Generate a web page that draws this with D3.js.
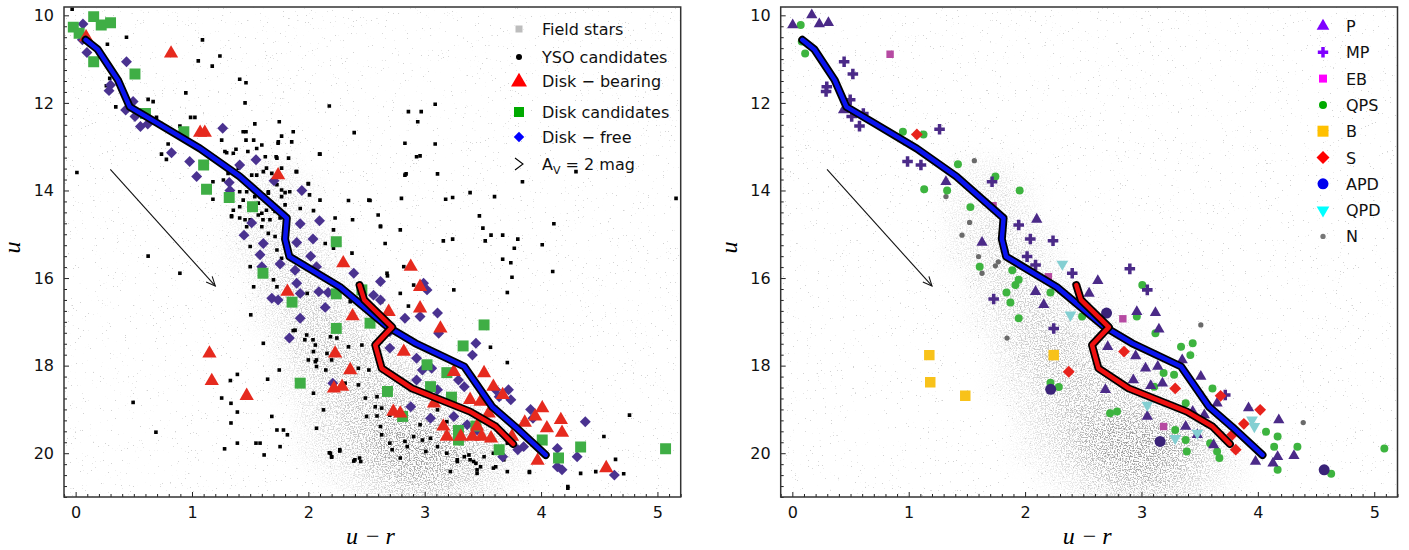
<!DOCTYPE html>
<html>
<head>
<meta charset="utf-8">
<script src="https://cdn.jsdelivr.net/npm/d3@7"></script>
<style>
  body { margin: 0; background: #fff; }
  svg { display: block; font-family: "DejaVu Sans", sans-serif; }
</style>
</head>
<body>
<svg id="chart" width="1409" height="550"><defs></defs></svg>
<script>

// ---- axis setup
const xDomain = [-0.1, 5.2]
const yDomain = [9.81, 21.0]
const xTicks = [0, 1, 2, 3, 4, 5]
const yTicks = [10, 12, 14, 16, 18, 20]

// ---- field stars: density (u-r columns, u rows)
const fieldColors = [1.2, 1.4, 1.6, 1.8, 2.0, 2.2, 2.4, 2.6, 2.8, 3.0, 3.2, 3.4, 3.6, 3.8, 4.0, 4.2, 4.4, 4.6]
const fieldMags = [13.5, 14.0, 14.5, 15.0, 15.5, 16.0, 16.5, 17.0, 17.5, 18.0, 18.5, 19.0, 19.5, 20.0, 20.5, 21.0]
const fieldDensity = [
  [0, 1, 1, 1, 0, 0, 0, 0, 0, 0, 0, 0, 0, 0, 0, 0, 0, 0],
  [0, 1, 2, 2, 1, 0, 0, 0, 0, 0, 0, 0, 0, 0, 0, 0, 0, 0],
  [0, 1, 2, 2, 1, 0, 0, 0, 0, 0, 0, 0, 0, 0, 0, 0, 0, 0],
  [0, 1, 2, 3, 2, 1, 0, 0, 0, 0, 0, 0, 0, 0, 0, 0, 0, 0],
  [0, 1, 2, 3, 3, 1, 0, 0, 0, 0, 0, 0, 0, 0, 0, 0, 0, 0],
  [0, 0, 2, 3, 3, 2, 1, 0, 0, 0, 0, 0, 0, 0, 0, 0, 0, 0],
  [0, 0, 1, 3, 4, 3, 2, 1, 0, 0, 0, 0, 0, 0, 0, 0, 0, 0],
  [0, 0, 1, 2, 4, 4, 3, 2, 1, 0, 0, 0, 0, 0, 0, 0, 0, 0],
  [0, 0, 0, 2, 4, 5, 4, 3, 2, 1, 0, 0, 0, 0, 0, 0, 0, 0],
  [0, 0, 0, 1, 3, 5, 5, 4, 3, 2, 1, 0, 0, 0, 0, 0, 0, 0],
  [0, 0, 0, 1, 2, 4, 5, 5, 4, 3, 2, 1, 0, 0, 0, 0, 0, 0],
  [0, 0, 0, 0, 2, 3, 5, 6, 6, 5, 3, 2, 1, 0, 0, 0, 0, 0],
  [0, 0, 0, 0, 1, 3, 5, 7, 8, 8, 7, 5, 3, 1, 0, 0, 0, 0],
  [0, 0, 0, 0, 1, 2, 4, 7, 9, 9, 8, 6, 3, 1, 0, 0, 0, 0],
  [0, 0, 0, 0, 0, 1, 2, 4, 6, 7, 6, 4, 2, 1, 0, 0, 0, 0],
  [0, 0, 0, 0, 0, 0, 1, 2, 3, 3, 3, 2, 1, 0, 0, 0, 0, 0]
]

// ---- isochrones and reddening vector
const isoBlue = [[0.086, 10.56], [0.19, 10.78], [0.364, 11.48], [0.465, 12.09], [0.695, 12.45], [1.068, 13.04], [1.41, 13.68], [1.815, 14.63], [1.80, 15.11], [1.837, 15.51], [2.27, 16.2], [2.68, 17.11], [2.92, 17.49], [3.34, 18.02], [3.58, 18.94], [3.78, 19.40], [4.04, 20.04]]
const isoRed = [[2.44, 16.16], [2.48, 16.5], [2.72, 17.12], [2.575, 17.53], [2.63, 18.06], [2.89, 18.52], [3.39, 19.05], [3.61, 19.39], [3.76, 19.79]]
const extinctionArrow = [[0.298, 13.52], [1.2, 16.18]]

// ---- left panel
const leftLabels = ['Field stars', 'YSO candidates', 'Disk \u2212 bearing', 'Disk candidates', 'Disk \u2212 free', 'A_V = 2 mag']

const ysoCandidates = [
  [-0.03, 9.86], [0.437, 10.5], [0.273, 10.66], [1.09, 10.56], [1.054, 11.04], [1.174, 11.16], [1.24, 10.93], [1.41, 11.46], [1.464, 11.54], [0.947, 11.77],
  [1.456, 12.0], [2.18, 12.07], [0.293, 11.44], [0.264, 11.61], [0.345, 12.09], [0.623, 11.92], [0.666, 11.97], [0.695, 12.33], [0.896, 12.53], [0.988, 12.33],
  [1.025, 12.33], [1.54, 12.48], [1.75, 12.43], [1.77, 12.76], [1.857, 12.89], [1.742, 12.89], [1.464, 12.66], [1.255, 12.85], [0.795, 12.94], [0.738, 13.17],
  [0.78, 13.29], [1.298, 13.14], [1.378, 13.06], [1.556, 13.04], [1.464, 12.85], [2.096, 13.17], [2.394, 12.68], [0.011, 13.59], [2.0, 13.85], [1.895, 13.57],
  [1.723, 13.23], [1.77, 13.49], [1.613, 13.57], [1.398, 13.49], [1.513, 13.65], [1.18, 13.8], [2.345, 14.23], [2.38, 14.67], [2.216, 14.9], [2.216, 15.32],
  [2.044, 14.46], [2.01, 14.1], [1.8, 14.05], [1.656, 14.06], [1.585, 14.14], [1.6, 14.52], [1.7, 14.43], [1.41, 14.37], [1.34, 14.58], [1.456, 14.67],
  [0.623, 15.5], [0.896, 15.89], [1.44, 12.66], [1.87, 12.66], [1.74, 12.92], [1.6, 12.96], [1.53, 12.85], [1.283, 13.11], [1.355, 13.15], [1.48, 13.11],
  [1.63, 13.23], [1.73, 13.26], [1.83, 13.26], [1.9, 13.57], [1.64, 13.49], [1.556, 13.65], [1.686, 13.61], [2.0, 13.84], [2.1, 13.17], [1.73, 13.87],
  [1.77, 13.99], [1.84, 14.03], [1.656, 14.03], [1.613, 14.1], [1.47, 14.03], [1.41, 14.03], [1.44, 14.22], [1.54, 14.14], [1.64, 14.22], [1.686, 14.29],
  [1.77, 14.14], [1.8, 14.33], [1.714, 14.48], [1.64, 14.45], [1.57, 14.56], [1.61, 14.67], [1.67, 14.67], [1.355, 14.45], [1.34, 14.6], [1.41, 14.63],
  [1.5, 14.67], [1.47, 14.83], [1.6, 14.83], [1.656, 14.98], [1.18, 14.2], [1.27, 13.76], [1.31, 13.61], [1.5, 15.28], [1.57, 14.29], [2.1, 14.22],
  [1.93, 14.41], [1.757, 14.63], [2.52, 14.22], [2.8, 14.18], [2.83, 13.65], [2.83, 12.92], [2.6, 14.56], [2.62, 14.83], [2.79, 14.9], [2.66, 15.21],
  [2.23, 14.63], [2.145, 15.21], [2.375, 15.43], [2.82, 15.74], [2.93, 13.23], [2.905, 16.16], [2.676, 15.89], [2.79, 16.35], [2.216, 16.12], [2.087, 15.89],
  [1.815, 15.05], [1.714, 15.05], [1.73, 15.36], [1.77, 15.55], [1.5, 15.74], [1.7, 16.04], [1.73, 16.2], [1.53, 16.2], [1.99, 16.35], [2.36, 16.54],
  [2.63, 16.54], [3.09, 12.03], [2.86, 12.2], [2.97, 12.2], [2.94, 12.43], [3.09, 12.94], [2.96, 13.21], [2.84, 13.62], [3.11, 13.62], [4.3, 13.57],
  [3.84, 13.8], [2.53, 14.23], [3.18, 14.2], [3.24, 14.16], [3.39, 14.05], [3.6, 14.14], [5.16, 14.18], [2.62, 14.81], [3.47, 14.58], [3.5, 14.86],
  [3.57, 15.02], [3.67, 15.02], [3.52, 15.15], [3.8, 15.11], [3.77, 15.32], [4.11, 14.76], [4.01, 15.24], [3.16, 15.15], [3.24, 15.11], [3.67, 15.57],
  [3.74, 15.65], [2.68, 15.95], [3.75, 15.98], [4.1, 15.85], [3.25, 16.27], [3.71, 16.33], [3.71, 17.93], [3.565, 17.58], [4.76, 19.13], [4.54, 19.62],
  [4.64, 20.14], [4.71, 20.47], [4.34, 20.46], [4.47, 20.42], [3.9, 20.44], [4.23, 20.8], [2.86, 16.64], [3.71, 19.77], [3.45, 20.38], [3.59, 20.34],
  [3.28, 20.15], [3.38, 20.04], [3.42, 20.19], [3.22, 20.42], [1.886, 17.19], [1.97, 17.41], [2.06, 17.53], [2.0, 17.87], [2.07, 17.87], [2.044, 17.68],
  [2.19, 17.34], [2.245, 17.37], [2.345, 17.57], [2.46, 17.53], [2.16, 17.72], [2.2, 17.87], [2.43, 18.06], [2.52, 18.1], [2.316, 18.4], [2.43, 18.44],
  [2.49, 18.74], [2.59, 18.71], [2.575, 18.94], [2.63, 18.97], [2.044, 18.63], [2.13, 19.01], [2.07, 19.43], [2.27, 19.92], [2.19, 20.0], [2.2, 20.08],
  [2.4, 20.15], [2.45, 20.19], [2.62, 19.39], [2.63, 19.58], [2.7, 19.77], [2.72, 19.92], [2.79, 20.11], [2.83, 19.73], [2.85, 19.85], [2.905, 19.62],
  [2.98, 19.7], [3.05, 19.66], [3.01, 19.96], [3.11, 19.85], [3.19, 20.0], [3.28, 20.19], [3.34, 20.08], [3.39, 20.15], [3.44, 20.23], [3.48, 20.31],
  [3.51, 20.08], [3.59, 20.0], [3.61, 20.31], [3.68, 20.15], [3.71, 20.42], [3.45, 20.46], [2.79, 19.24], [2.96, 19.35], [2.7, 19.13], [2.59, 19.15],
  [2.5, 19.16], [3.15, 19.43], [3.11, 19.01], [3.19, 19.28], [3.9, 20.42], [4.23, 20.76], [1.9, 18.33], [1.505, 16.84], [1.613, 17.49], [1.75, 18.1],
  [1.65, 18.31], [1.39, 18.2], [1.33, 18.34], [1.255, 18.74], [1.335, 18.86], [1.39, 19.06], [1.335, 19.31], [1.39, 19.77], [1.28, 19.9], [1.55, 19.77],
  [1.585, 19.77], [1.62, 20.04], [1.757, 19.85], [1.686, 19.16], [1.73, 19.47], [1.786, 19.47], [1.82, 19.58], [1.87, 17.2], [1.986, 17.3], [2.04, 17.41],
  [2.06, 17.91], [2.07, 18.02], [2.15, 18.1], [2.18, 19.99], [2.2, 20.09], [2.27, 19.95], [2.39, 20.18], [2.44, 20.11], [0.494, 18.84], [0.69, 19.52]
]

const diskFree = [
  [0.063, 10.2], [0.058, 10.56], [0.097, 10.85], [0.437, 11.06], [0.287, 11.72], [0.3, 11.59], [0.494, 11.97], [0.43, 12.16], [0.51, 12.31], [0.557, 12.54],
  [0.62, 12.48], [0.824, 13.14], [0.98, 13.34], [1.04, 13.68], [1.264, 12.58], [1.41, 13.42], [1.55, 13.3], [1.32, 13.82], [1.326, 14.0], [1.705, 13.78],
  [1.944, 14.0], [1.513, 14.74], [1.447, 15.02], [1.613, 15.21], [1.93, 14.76], [2.096, 14.69], [2.04, 15.11], [1.9, 15.19], [1.585, 15.47], [1.6, 15.74],
  [1.757, 15.68], [1.886, 15.82], [2.02, 15.5], [2.07, 15.74], [1.9, 16.12], [1.93, 16.35], [1.686, 16.46], [1.74, 16.5], [2.09, 16.31], [2.17, 16.33],
  [2.39, 15.89], [2.62, 16.08], [2.56, 16.39], [2.62, 16.5], [2.145, 16.67], [1.93, 16.92], [1.837, 17.37], [2.21, 18.4], [2.7, 17.22], [2.83, 16.92],
  [2.96, 16.88], [3.11, 16.8], [3.12, 17.26], [3.44, 17.49], [3.41, 17.76], [2.7, 17.6], [2.93, 17.83], [2.98, 18.1], [3.06, 18.06], [2.93, 18.33],
  [3.29, 18.33], [3.34, 18.48], [3.11, 18.55], [2.88, 18.94], [3.05, 19.2], [3.25, 19.16], [3.365, 19.35], [3.61, 18.55], [3.64, 18.71], [3.72, 18.55],
  [3.74, 18.78], [3.91, 19.0], [3.93, 19.2], [4.38, 19.28], [3.85, 19.85], [3.8, 19.92], [4.14, 19.89], [4.14, 20.31], [4.18, 20.38], [4.31, 20.08],
  [3.67, 20.08], [3.45, 19.47], [2.99, 16.12], [3.02, 16.27], [4.63, 20.5]
]

const diskCandidates = [
  [0.155, 10.03], [0.22, 10.22], [0.3, 10.17], [-0.02, 10.27], [0.03, 10.41], [0.155, 11.06], [0.51, 11.34], [0.6, 12.24], [0.93, 12.66], [1.1, 13.42],
  [1.125, 13.97], [1.32, 14.16], [1.52, 14.37], [2.24, 15.17], [1.61, 15.89], [1.86, 16.55], [2.24, 16.36], [2.24, 17.15], [1.93, 18.4], [2.53, 17.03],
  [2.46, 16.27], [3.51, 17.07], [3.33, 17.55], [3.02, 17.98], [3.19, 18.16], [3.05, 18.48], [2.68, 18.59], [3.23, 18.72], [2.81, 19.16], [3.44, 19.38],
  [3.29, 19.48], [3.29, 19.7], [3.64, 19.92], [4.01, 19.7], [4.34, 19.86], [5.07, 19.9], [4.15, 20.11]
]

const diskBearing = [
  [0.09, 10.5], [0.82, 10.87], [1.07, 12.68], [1.11, 12.68], [1.74, 13.65], [2.3, 15.66], [2.88, 15.74], [1.15, 17.72], [1.17, 18.35], [1.47, 18.69],
  [1.82, 16.31], [2.38, 16.87], [2.23, 17.72], [2.36, 18.1], [2.29, 18.48], [2.22, 18.52], [2.69, 16.77], [2.96, 16.69], [2.96, 16.2], [3.135, 17.15],
  [2.82, 17.68], [3.25, 18.14], [3.51, 18.17], [3.08, 18.86], [2.73, 19.05], [2.79, 19.09], [3.39, 18.78], [3.48, 18.82], [3.55, 19.09], [3.59, 18.48],
  [3.67, 18.67], [3.16, 19.39], [3.19, 19.62], [3.31, 19.62], [3.41, 19.62], [3.49, 19.62], [3.45, 19.39], [3.57, 19.66], [3.75, 19.62], [3.86, 19.3],
  [4.01, 18.97], [3.95, 19.16], [4.05, 19.43], [4.17, 19.24], [4.18, 19.53], [3.97, 20.17], [4.56, 20.34]
]

// ---- right panel (variability classes)
const rightLabels = ['P', 'MP', 'EB', 'QPS', 'B', 'S', 'APD', 'QPD', 'N']

const periodic = [
  [0.003, 10.22], [0.167, 9.99], [0.232, 10.2], [0.31, 10.17], [0.44, 12.16], [1.32, 13.8], [2.1, 14.66], [1.63, 15.19], [2.625, 16.06], [2.09, 16.31],
  [2.16, 16.61], [2.55, 16.35], [2.96, 16.77], [3.12, 16.79], [3.15, 17.17], [3.035, 18.06], [2.95, 17.78], [2.71, 17.57], [2.69, 18.55], [2.93, 18.33],
  [3.08, 18.46], [3.05, 19.16], [3.35, 17.87], [3.51, 18.25], [3.18, 18.4], [3.14, 18.02], [3.44, 19.05], [3.38, 19.39], [3.54, 19.13], [3.65, 18.86],
  [3.92, 18.97], [4.18, 19.24], [3.98, 20.19], [4.13, 20.23], [4.17, 20.08], [4.31, 20.06], [3.48, 19.58], [3.62, 19.81]
]
const multiPeriodic = [
  [0.445, 11.06], [0.52, 11.34], [0.296, 11.63], [0.29, 11.74], [0.497, 11.93], [0.51, 12.31], [0.61, 12.24], [0.577, 12.53], [1.265, 12.6], [0.99, 13.34],
  [1.105, 13.42], [1.716, 13.8], [1.945, 14.79], [2.045, 15.11], [2.24, 15.15], [2.017, 15.51], [2.09, 15.7], [2.405, 15.89], [2.9, 15.79], [1.73, 16.48],
  [3.05, 16.27], [2.246, 17.15], [3.72, 18.67]
]
const eclipsing = [[0.84, 10.89], [1.725, 14.35], [2.2, 15.97], [2.84, 16.93], [3.19, 19.39]]
const quasiPeriodicSym = [
  [0.072, 10.22], [0.081, 10.6], [0.11, 10.87], [0.95, 12.66], [1.127, 12.72], [1.133, 13.97], [1.33, 14.0], [1.423, 13.4], [1.745, 13.68], [1.953, 14.0],
  [1.53, 14.38], [1.61, 15.74], [1.89, 15.82], [1.945, 16.04], [1.917, 16.16], [1.84, 16.33], [1.874, 16.56], [2.218, 16.33], [3.007, 16.16], [1.945, 16.92],
  [2.218, 18.39], [2.29, 18.49], [2.49, 16.88], [2.96, 16.88], [3.12, 17.26], [3.34, 17.57], [3.44, 17.49], [3.42, 17.76], [3.19, 18.17], [3.28, 18.21],
  [3.11, 18.48], [3.38, 18.86], [3.61, 18.52], [2.73, 19.09], [2.79, 19.05], [3.29, 19.47], [3.38, 19.7], [3.59, 19.77], [3.65, 19.96], [3.67, 20.11],
  [4.07, 19.51], [4.17, 19.62], [4.14, 19.85], [4.34, 19.85], [4.17, 20.38], [5.087, 19.89], [4.63, 20.47], [3.39, 19.96]
]
const bursters = [[1.177, 17.76], [1.185, 18.38], [1.486, 18.69], [2.246, 17.76]]
const stochastic = [[1.07, 12.72], [2.375, 18.14], [2.85, 17.68], [3.29, 18.52], [3.68, 18.69], [4.02, 19.01], [3.88, 19.33], [3.78, 19.58], [3.81, 19.92]]
const aperiodicDippers = [[2.7, 16.8], [2.22, 18.54], [3.16, 19.73], [4.57, 20.38]]
const quasiPeriodicDippers = [[2.32, 15.68], [2.39, 16.84], [3.29, 19.66], [3.48, 19.54], [3.95, 19.24], [3.97, 19.39], [3.05, 18.9]]
const nonVariable = [[1.564, 13.32], [1.32, 14.14], [1.523, 14.73], [1.458, 15.02], [1.6, 15.51], [1.745, 15.72], [1.77, 15.63], [1.63, 15.89], [1.845, 17.37], [3.51, 17.07], [4.39, 19.3]]


let svg = d3.select('#chart')
let defs = svg.select('defs')
const plotTop = 7, plotBottom = 497

function marks(g, x, y, data, type, size, fill, rot) {
  let sym = d3.symbol().type(type).size(size)
  g.selectAll(null)
    .data(data)
    .enter().append('path')
    .attr('d', sym)
    .attr('transform', d => `translate(${x(d[0])},${y(d[1])})` + (rot ? ` rotate(${rot})` : ''))
    .attr('fill', fill)
}

function drawPanel(id, left, right) {
  let x = d3.scaleLinear().domain(xDomain).range([left, right])
  let y = d3.scaleLinear().domain(yDomain).range([plotTop, plotBottom])
  let w = right - left, h = plotBottom - plotTop

  defs.append('clipPath').attr('id', id + '-clip')
    .append('rect').attr('x', left).attr('y', plotTop).attr('width', w).attr('height', h)

  // speckled cloud filter: blurred density masked by thresholded noise
  let f = defs.append('filter').attr('id', id + '-cloud')
    .attr('filterUnits', 'userSpaceOnUse')
    .attr('x', left).attr('y', plotTop).attr('width', w).attr('height', h)
  f.append('feGaussianBlur').attr('in', 'SourceGraphic').attr('stdDeviation', 8).attr('result', 'blur')
  f.append('feTurbulence').attr('type', 'fractalNoise').attr('baseFrequency', 0.75)
    .attr('numOctaves', 2).attr('seed', 5).attr('result', 'noise')
  f.append('feColorMatrix').attr('in', 'noise').attr('type', 'matrix')
    .attr('values', '0 0 0 0 0  0 0 0 0 0  0 0 0 0 0  6 0 0 0 -2.8').attr('result', 'dots')
  f.append('feComposite').attr('in', 'blur').attr('in2', 'dots').attr('operator', 'in')

  let fs = defs.append('filter').attr('id', id + '-sparse')
    .attr('filterUnits', 'userSpaceOnUse')
    .attr('x', left).attr('y', plotTop).attr('width', w).attr('height', h)
  fs.append('feTurbulence').attr('type', 'fractalNoise').attr('baseFrequency', 0.6)
    .attr('numOctaves', 2).attr('seed', 11).attr('result', 'noise')
  fs.append('feColorMatrix').attr('in', 'noise').attr('type', 'matrix')
    .attr('values', '0 0 0 0 0  0 0 0 0 0  0 0 0 0 0  16 0 0 0 -11.9').attr('result', 'dots')
  fs.append('feComposite').attr('in', 'SourceGraphic').attr('in2', 'dots').attr('operator', 'in')

  let g = svg.append('g').attr('id', id)
  let plot = g.append('g').attr('clip-path', `url(#${id}-clip)`)

  // faint scattered field stars over the whole panel
  plot.append('rect')
    .attr('x', left).attr('y', plotTop).attr('width', w).attr('height', h)
    .attr('fill', '#d2d2d2')
    .attr('filter', `url(#${id}-sparse)`)

  let cells = []
  fieldMags.forEach((m, i) => fieldColors.forEach((c, j) => {
    if (fieldDensity[i][j] > 0) cells.push({ c: c, m: m, d: fieldDensity[i][j] })
  }))
  plot.append('g')
    .attr('filter', `url(#${id}-cloud)`)
    .selectAll('rect')
    .data(cells)
    .enter().append('rect')
    .attr('x', d => x(d.c - 0.1))
    .attr('y', d => y(d.m - 0.25))
    .attr('width', x(0.2) - x(0))
    .attr('height', y(0.5) - y(0))
    .attr('fill', '#9a9a9a')
    .attr('fill-opacity', d => Math.min(1, 0.05 + d.d / 9))

  // axes with inward ticks
  let minorX = d3.range(-0.1, 5.21, 0.1).map(v => Math.round(v * 10) / 10).filter(v => !xTicks.includes(v))
  let minorY = d3.range(10, 21.01, 0.25).filter(v => !yTicks.includes(v))

  g.append('g').attr('transform', `translate(0,${plotBottom})`)
    .call(d3.axisBottom(x).tickValues(xTicks).tickSize(-5).tickPadding(10).tickFormat(d3.format('d')))
  g.append('g').attr('transform', `translate(0,${plotBottom})`)
    .call(d3.axisBottom(x).tickValues(minorX).tickSize(-3).tickFormat(''))
  g.append('g').attr('transform', `translate(${left},0)`)
    .call(d3.axisLeft(y).tickValues(yTicks).tickSize(-5).tickPadding(10).tickFormat(d3.format('d')))
  g.append('g').attr('transform', `translate(${left},0)`)
    .call(d3.axisLeft(y).tickValues(minorY).tickSize(-3).tickFormat(''))
  g.selectAll('.domain').remove()
  g.selectAll('.tick line').attr('stroke', '#222')
  g.selectAll('.tick text').attr('font-size', 16).attr('fill', '#111')
    .attr('font-family', '"DejaVu Sans", sans-serif')

  g.append('rect')
    .attr('x', left).attr('y', plotTop).attr('width', w).attr('height', h)
    .attr('fill', 'none').attr('stroke', '#333').attr('stroke-width', 1.5)

  // axis titles
  let xt = g.append('text')
    .attr('x', (left + right) / 2 - 2).attr('y', 544)
    .attr('text-anchor', 'middle')
    .attr('font-family', '"Liberation Serif", serif').attr('font-style', 'italic').attr('font-size', 24)
  xt.append('tspan').text('u')
  xt.append('tspan').attr('dx', 8).attr('font-style', 'normal').text('\u2212')
  xt.append('tspan').attr('dx', 6).text('r')
  g.append('text')
    .attr('transform', `translate(${left - 44},${y(15.3)}) rotate(-90)`)
    .attr('text-anchor', 'middle')
    .attr('font-family', '"Liberation Serif", serif').attr('font-style', 'italic').attr('font-size', 24)
    .text('u')

  // reddening arrow
  let ax0 = x(extinctionArrow[0][0]), ay0 = y(extinctionArrow[0][1])
  let ax1 = x(extinctionArrow[1][0]), ay1 = y(extinctionArrow[1][1])
  let ang = Math.atan2(ay1 - ay0, ax1 - ax0)
  g.append('line')
    .attr('x1', ax0).attr('y1', ay0).attr('x2', ax1).attr('y2', ay1)
    .attr('stroke', '#111').attr('stroke-width', 1.1)
  g.append('path')
    .attr('d', `M${ax1 - 10 * Math.cos(ang - 0.42)},${ay1 - 10 * Math.sin(ang - 0.42)} L${ax1},${ay1} L${ax1 - 10 * Math.cos(ang + 0.42)},${ay1 - 10 * Math.sin(ang + 0.42)}`)
    .attr('fill', 'none').attr('stroke', '#111').attr('stroke-width', 1.1)

  return { g: g, plot: plot, x: x, y: y }
}

function drawIsochrones(p) {
  let line = d3.line().x(d => p.x(d[0])).y(d => p.y(d[1]))
  let iso = p.g.append('g')
  ;[[isoBlue, '#0a14f0'], [isoRed, '#f01010']].forEach(s => {
    iso.append('path').attr('d', line(s[0]))
      .attr('fill', 'none').attr('stroke', '#000').attr('stroke-width', 8)
      .attr('stroke-linejoin', 'round').attr('stroke-linecap', 'round')
    iso.append('path').attr('d', line(s[0]))
      .attr('fill', 'none').attr('stroke', s[1]).attr('stroke-width', 4.5)
      .attr('stroke-linejoin', 'round').attr('stroke-linecap', 'round')
  })
}

// ---------- left panel
let L = drawPanel('left', 64, 680.7)
marks(L.plot, L.x, L.y, ysoCandidates, d3.symbolSquare, 13, '#000')
marks(L.plot, L.x, L.y, diskFree, d3.symbolSquare, 60, '#4a3290', 45)
marks(L.plot, L.x, L.y, diskCandidates, d3.symbolSquare, 120, '#3fae45')
marks(L.plot, L.x, L.y, diskBearing, d3.symbolTriangle, 88, '#e62a1e')
drawIsochrones(L)

let leftRows = [29, 57, 81, 112, 137, 164]
let lg = L.g.append('g')
lg.append('rect').attr('x', 515.5).attr('y', leftRows[0] - 3.5).attr('width', 7).attr('height', 7).attr('fill', '#bdbdbd')
lg.append('circle').attr('cx', 519).attr('cy', leftRows[1]).attr('r', 3).attr('fill', '#000')
lg.append('path').attr('d', d3.symbol().type(d3.symbolTriangle).size(110)).attr('transform', `translate(519,${leftRows[2] + 1})`).attr('fill', '#ff0000')
lg.append('rect').attr('x', 514).attr('y', leftRows[3] - 5).attr('width', 10).attr('height', 10).attr('fill', '#00aa00')
lg.append('path').attr('d', d3.symbol().type(d3.symbolSquare).size(55)).attr('transform', `translate(519,${leftRows[4]}) rotate(45)`).attr('fill', '#0000ff')
lg.append('path').attr('d', `M515,${leftRows[5] - 6} L523,${leftRows[5]} L515,${leftRows[5] + 6}`)
  .attr('fill', 'none').attr('stroke', '#000').attr('stroke-width', 1.1)
leftLabels.forEach((t, i) => {
  let tx = lg.append('text').attr('x', 542).attr('y', leftRows[i] + 6).attr('font-size', 16).attr('fill', '#111')
  if (t.startsWith('A_V')) {
    tx.append('tspan').text('A')
    tx.append('tspan').attr('dy', 4).attr('font-size', 11).text('V')
    tx.append('tspan').attr('dy', -4).text(' = 2 mag')
  } else {
    tx.text(t)
  }
})

// ---------- right panel
let R = drawPanel('right', 780.7, 1397.5)
marks(R.plot, R.x, R.y, nonVariable, d3.symbolCircle, 22, '#6a6a6a')
marks(R.plot, R.x, R.y, quasiPeriodicSym, d3.symbolCircle, 50, '#3db43f')
marks(R.plot, R.x, R.y, periodic, d3.symbolTriangle, 55, '#4b2a88')
marks(R.plot, R.x, R.y, multiPeriodic, d3.symbolCross, 62, '#4b2a88')
marks(R.plot, R.x, R.y, eclipsing, d3.symbolSquare, 55, '#b64aa2')
marks(R.plot, R.x, R.y, bursters, d3.symbolSquare, 110, '#f8c21a')
marks(R.plot, R.x, R.y, stochastic, d3.symbolSquare, 70, '#e8221c', 45)
marks(R.plot, R.x, R.y, aperiodicDippers, d3.symbolCircle, 95, '#3a2378')
marks(R.plot, R.x, R.y, quasiPeriodicDippers, d3.symbolTriangle, 60, '#84cfd2', 180)
drawIsochrones(R)

let rightColors = ['#7f00ff', '#7f00ff', '#ff00ff', '#00aa00', '#ffc000', '#ff0000', '#0000ee', '#00ffff', '#777777']
let rightShapes = [
  [d3.symbolTriangle, 70, 0], [d3.symbolCross, 60, 0], [d3.symbolSquare, 64, 0], [d3.symbolCircle, 50, 0],
  [d3.symbolSquare, 121, 0], [d3.symbolSquare, 85, 45], [d3.symbolCircle, 95, 0], [d3.symbolTriangle, 70, 180], [d3.symbolCircle, 22, 0]
]
let rg = R.g.append('g')
rightLabels.forEach((t, i) => {
  let ry = 26 + i * 26.3
  rg.append('path')
    .attr('d', d3.symbol().type(rightShapes[i][0]).size(rightShapes[i][1]))
    .attr('transform', `translate(1323,${ry}) rotate(${rightShapes[i][2]})`)
    .attr('fill', rightColors[i])
  rg.append('text').attr('x', 1346).attr('y', ry + 6).attr('font-size', 16).attr('fill', '#111').text(t)
})

</script>
</body>
</html>
